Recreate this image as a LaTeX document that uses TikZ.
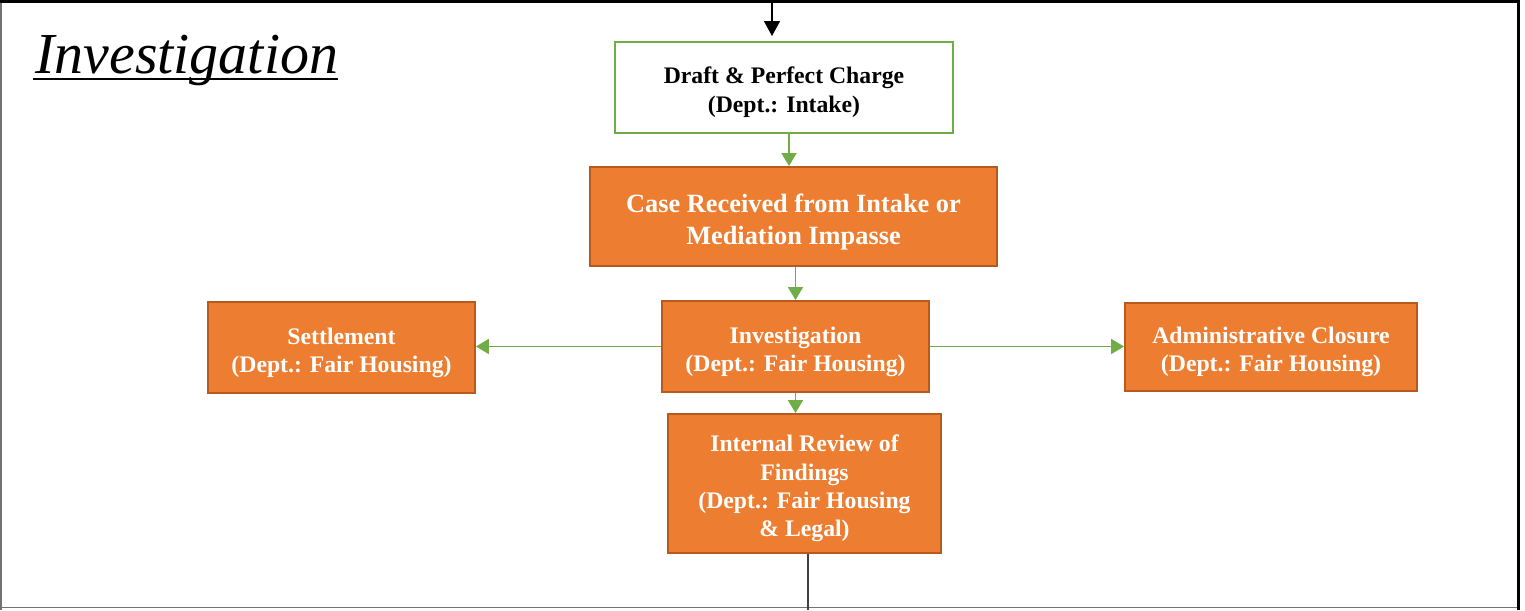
\documentclass[tikz,border=0pt]{standalone}
\usepackage{fontspec}
\setmainfont{Liberation Serif}
\usetikzlibrary{arrows.meta}
\definecolor{ogreen}{HTML}{70AD47}
\definecolor{oorange}{HTML}{ED7D31}
\definecolor{oedge}{HTML}{B65A1F}
% extra room above the first line, so the text sits a little lower in its box
\newcommand{\lift}[1][15pt]{\rule{0pt}{#1}}
\begin{document}
\begin{tikzpicture}[
    x=0.02cm, y=-0.02cm,
    task/.style={draw=oedge, line width=1.1pt, fill=oorange, text=white, align=center, font=\bfseries\fontsize{13.5}{16}\selectfont},
    plain/.style={draw=ogreen, line width=1.4pt, fill=white, align=center, font=\bfseries\fontsize{13.5}{16.4}\selectfont},
    arr/.style={-{Triangle[width=3mm, length=2.6mm]}, draw=ogreen, fill=ogreen, line width=1pt},
    inarr/.style={-{Triangle[width=3.2mm, length=3mm]}, draw=black, line width=0.9pt},
    outline/.style={draw=black!75, line width=0.9pt},
]

% Frame
\useasboundingbox (0,0) rectangle (1525,610);
\draw[black!55, line width=0.6pt] (1,0) -- (1,610);
\draw[black!55, line width=0.8pt] (0,607.5) -- (1519,607.5);
\draw[black, line width=1.2pt] (1518.5,0) -- (1518.5,610);
\draw[black, line width=1.8pt] (0,1.5) -- (1519,1.5);

% Title
\node[anchor=base west, inner sep=0pt, font=\itshape\fontsize{33}{40}\selectfont] (ttl) at (35,73) {Investigation};
\draw[line width=1.1pt] ([xshift=-0.04cm, yshift=-3.5pt]ttl.base west) -- ([yshift=-3.5pt]ttl.base east);

% Boxes
\node[plain, minimum width=6.76cm, minimum height=1.82cm] (draft) at (784,87.5) {\lift Draft \& Perfect Charge\\(Dept.: Intake)};
\node[task, font=\bfseries\fontsize{15}{18.2}\selectfont, minimum width=8.14cm, minimum height=1.98cm] (case) at (793.5,216.5) {\lift[17pt]Case Received from Intake or\\Mediation Impasse};
\node[task, minimum width=5.34cm, minimum height=1.82cm] (inv) at (795.5,346.5) {\lift Investigation\\(Dept.: Fair Housing)};
\node[task, minimum width=5.34cm, minimum height=1.82cm] (settle) at (341.5,347.5) {\lift Settlement\\(Dept.: Fair Housing)};
\node[task, minimum width=5.84cm, minimum height=1.76cm] (admin) at (1271,347) {\lift Administrative Closure\\(Dept.: Fair Housing)};
\node[task, minimum width=5.46cm, minimum height=2.78cm] (review) at (804.5,483.5) {\lift Internal Review of\\Findings\\(Dept.: Fair Housing\\\& Legal)};

% Free ends
\coordinate (entry) at (772,0);
\coordinate (entrytip) at (772,36);
\coordinate (exit) at (808,610);

% Edges
\draw[inarr] (entry) -- (entrytip);
\draw[arr] ([xshift=0.1cm]draft.south) -- ([xshift=0.1cm]draft.south |- case.north);
\draw[arr] (case.south -| inv.north) -- (inv.north);
\draw[arr] (inv.west) -- (inv.west -| settle.east);
\draw[arr] (inv.east) -- (inv.east -| admin.west);
\draw[arr] (inv.south) -- (inv.south |- review.north);
\draw[outline] (review.south -| exit) -- (exit);

\end{tikzpicture}
\end{document}
